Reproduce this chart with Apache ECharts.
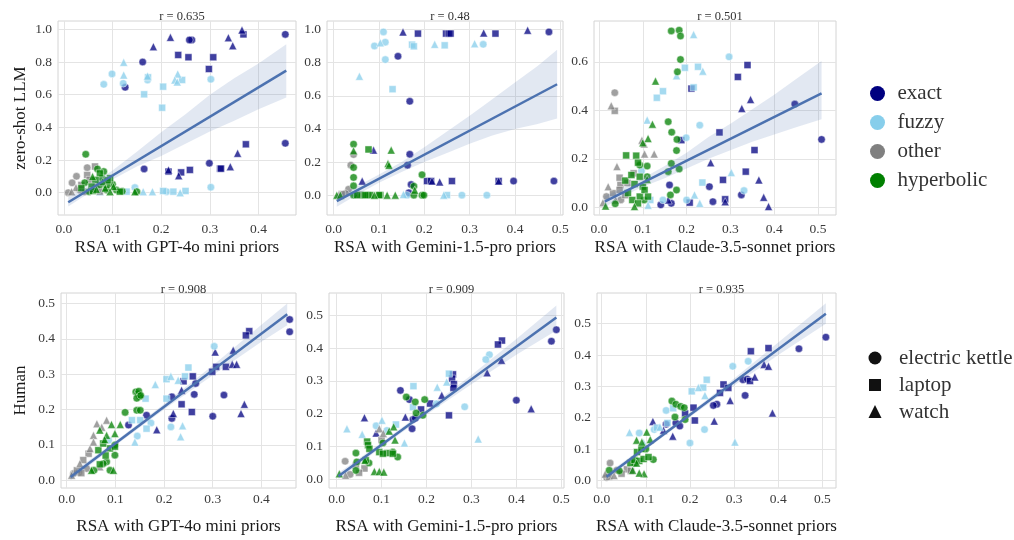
<!DOCTYPE html>
<html>
<head>
<meta charset="utf-8">
<script src="https://cdn.jsdelivr.net/npm/echarts@6.0.0/dist/echarts.min.js"></script>
<style>
  html, body { margin: 0; padding: 0; background: #fff; }
  #chart { width: 1014px; height: 540px; }
</style>
</head>
<body>
<div id="chart"></div>
<script>
// point = [x, y, shape]  shape: k = electric kettle, l = laptop, w = watch
const categories = ['exact', 'fuzzy', 'other', 'hyperbolic'];
const shapeNames = ['electric kettle', 'laptop', 'watch'];
const rValues = ['r = 0.635', 'r = 0.48', 'r = 0.501', 'r = 0.908', 'r = 0.909', 'r = 0.935'];
const xNames = ['RSA with GPT-4o mini priors', 'RSA with Gemini-1.5-pro priors', 'RSA with Claude-3.5-sonnet priors'];
const yNames = ['zero-shot LLM', 'Human'];

// ---- zero-shot LLM vs RSA (GPT-4o mini)
const gptLlmExact = [
  [0.455,0.969,'k'],[0.263,0.935,'k'],[0.258,0.935,'k'],[0.162,0.80,'k'],[0.126,0.645,'k'],[0.455,0.302,'k'],[0.165,0.145,'k'],[0.299,0.18,'k'],
  [0.184,0.894,'w'],[0.219,0.951,'w'],[0.338,0.949,'w'],[0.347,0.90,'w'],[0.366,0.996,'w'],[0.236,0.104,'w'],[0.357,0.241,'w'],[0.342,0.159,'w'],[0.215,0.139,'w'],
  [0.369,0.969,'l'],[0.235,0.843,'l'],[0.256,0.829,'l'],[0.307,0.829,'l'],[0.298,0.757,'l'],[0.374,0.296,'l'],[0.215,0.129,'l'],[0.241,0.124,'l'],[0.259,0.139,'l'],[0.321,0.147,'l'],[0.323,0.147,'l']
];
const gptLlmFuzzy = [
  [0.082,0.663,'k'],[0.099,0.727,'k'],[0.122,0.669,'k'],[0.172,0.69,'k'],[0.302,0.694,'k'],[0.302,0.033,'k'],[0.146,0.031,'k'],[0.211,0.006,'k'],
  [0.123,0.798,'w'],[0.123,0.72,'w'],[0.172,0.714,'w'],[0.234,0.727,'w'],[0.228,0.69,'w'],[0.233,0.678,'w'],[0.163,0.006,'w'],[0.182,0.006,'w'],[0.239,0.0,'w'],[0.074,0.006,'w'],
  [0.173,0.706,'l'],[0.165,0.602,'l'],[0.204,0.649,'l'],[0.202,0.52,'l'],[0.243,0.69,'l'],[0.129,0.006,'l'],[0.204,0.01,'l'],[0.25,0.01,'l'],[0.225,0.006,'l']
];
const gptLlmOther = [
  [0.009,0.0,'k'],[0.026,0.10,'k'],[0.017,0.06,'k'],[0.048,0.153,'k'],[0.033,0.016,'k'],[0.043,0.006,'k'],
  [0.064,0.16,'l'],[0.048,0.108,'l'],[0.053,0.078,'l'],[0.036,0.047,'l'],[0.067,0.037,'l'],[0.074,0.006,'l'],
  [0.025,0.031,'w'],[0.06,0.027,'w'],[0.016,0.006,'w']
];
const gptLlmHyper = [
  [0.045,0.235,'k'],[0.069,0.145,'k'],[0.082,0.129,'k'],[0.1,0.051,'k'],[0.043,0.061,'k'],[0.108,0.016,'k'],[0.15,0.006,'k'],[0.088,0.016,'k'],[0.074,0.047,'k'],[0.052,0.006,'k'],[0.078,0.09,'k'],[0.12,0.008,'k'],
  [0.074,0.118,'l'],[0.065,0.078,'l'],[0.095,0.088,'l'],[0.057,0.037,'l'],[0.115,0.006,'l'],[0.088,0.047,'l'],[0.036,0.027,'l'],[0.09,0.075,'l'],[0.06,0.01,'l'],
  [0.059,0.098,'w'],[0.08,0.067,'w'],[0.102,0.037,'w'],[0.095,0.006,'w'],[0.067,0.02,'w'],[0.146,0.006,'w'],[0.085,0.028,'w']
];
const gptLlmFit = [[0.009,-0.059],[0.457,0.747]];
const gptLlmBand = [
  [0.009,-0.085,-0.03],[0.05,-0.005,0.04],[0.1,0.08,0.135],[0.15,0.16,0.25],[0.2,0.225,0.37],
  [0.25,0.30,0.48],[0.3,0.375,0.60],[0.35,0.44,0.70],[0.4,0.51,0.79],[0.457,0.582,0.908]
];

// ---- zero-shot LLM vs RSA (Gemini-1.5-pro)
const gemLlmExact = [
  [0.475,0.986,'k'],[0.142,0.839,'k'],[0.168,0.567,'k'],[0.168,0.247,'k'],[0.163,0.181,'k'],[0.171,0.064,'k'],[0.397,0.085,'k'],[0.486,0.085,'k'],[0.166,0.014,'k'],
  [0.153,0.986,'w'],[0.331,0.98,'w'],[0.428,0.996,'w'],[0.088,0.272,'w'],[0.063,0.085,'w'],[0.217,0.085,'w'],[0.234,0.08,'w'],[0.364,0.085,'w'],
  [0.186,0.976,'l'],[0.248,0.976,'l'],[0.254,0.976,'l'],[0.258,0.976,'l'],[0.357,0.976,'l'],[0.206,0.085,'l'],[0.215,0.085,'l'],[0.261,0.085,'l'],[0.364,0.085,'l']
];
const gemLlmFuzzy = [
  [0.11,0.986,'k'],[0.114,0.924,'k'],[0.09,0.901,'k'],[0.114,0.819,'k'],[0.33,0.911,'k'],[0.283,0.0,'k'],[0.338,0.0,'k'],[0.162,0.0,'k'],
  [0.103,0.92,'w'],[0.223,0.911,'w'],[0.311,0.915,'w'],[0.057,0.718,'w'],[0.243,0.0,'w'],[0.154,0.004,'w'],
  [0.173,0.909,'l'],[0.177,0.899,'l'],[0.245,0.905,'l'],[0.13,0.64,'l'],[0.25,0.0,'l']
];
const gemLlmOther = [
  [0.044,0.245,'k'],[0.038,0.181,'k'],[0.033,0.036,'k'],[0.026,0.01,'k'],
  [0.018,0.006,'l'],[0.059,0.004,'l'],
  [0.052,0.003,'w'],[0.012,0.002,'w']
];
const gemLlmHyper = [
  [0.044,0.308,'k'],[0.044,0.167,'k'],[0.044,0.107,'k'],[0.044,0.056,'k'],[0.195,0.123,'k'],[0.177,0.054,'k'],[0.044,0.0,'k'],[0.063,0.0,'k'],[0.177,0.0,'k'],[0.195,0.0,'k'],[0.199,0.0,'k'],
  [0.077,0.276,'l'],[0.075,0.0,'l'],[0.081,0.0,'l'],[0.103,0.0,'l'],[0.052,0.0,'l'],[0.07,0.0,'l'],[0.1,0.0,'l'],
  [0.044,0.268,'w'],[0.127,0.272,'w'],[0.12,0.191,'w'],[0.122,0.18,'w'],[0.179,0.03,'w'],[0.007,0.0,'w'],[0.015,0.0,'w'],[0.118,0.0,'w'],[0.136,0.0,'w'],[0.09,0.0,'w']
];
const gemLlmFit = [[0.007,-0.036],[0.493,0.67]];
const gemLlmBand = [
  [0.007,-0.07,-0.005],[0.05,0.0,0.05],[0.1,0.075,0.125],[0.15,0.14,0.20],[0.2,0.20,0.29],[0.25,0.255,0.385],
  [0.3,0.31,0.48],[0.35,0.36,0.58],[0.4,0.40,0.68],[0.45,0.43,0.78],[0.493,0.463,0.879]
];

// ---- zero-shot LLM vs RSA (Claude-3.5-sonnet)
const claLlmExact = [
  [0.447,0.426,'k'],[0.508,0.28,'k'],[0.252,0.085,'k'],[0.161,0.092,'k'],[0.325,0.051,'k'],[0.26,0.023,'k'],[0.141,0.01,'k'],[0.165,0.016,'k'],
  [0.339,0.587,'l'],[0.317,0.538,'l'],[0.211,0.49,'l'],[0.275,0.309,'l'],[0.188,0.277,'l'],[0.355,0.236,'l'],[0.335,0.147,'l'],[0.283,0.113,'l'],[0.288,0.033,'l'],[0.207,0.019,'l'],
  [0.346,0.445,'w'],[0.326,0.408,'w'],[0.255,0.184,'w'],[0.365,0.113,'w'],[0.288,0.023,'w'],[0.376,0.041,'w'],[0.387,0.003,'w'],[0.158,0.03,'w']
];
const claLlmFuzzy = [
  [0.297,0.621,'k'],[0.23,0.339,'k'],[0.199,0.287,'k'],[0.331,0.069,'k'],[0.097,0.15,'k'],[0.146,0.03,'k'],[0.2,0.03,'k'],
  [0.216,0.713,'w'],[0.237,0.562,'w'],[0.177,0.543,'w'],[0.11,0.36,'w'],[0.302,0.143,'w'],[0.218,0.051,'w'],[0.23,0.016,'w'],[0.112,0.008,'w'],
  [0.196,0.576,'l'],[0.226,0.58,'l'],[0.146,0.479,'l'],[0.132,0.452,'l'],[0.216,0.495,'l'],[0.236,0.102,'l'],[0.117,0.03,'l']
];
const claLlmOther = [
  [0.036,0.473,'k'],[0.017,0.044,'k'],[0.05,0.03,'k'],
  [0.036,0.398,'l'],[0.047,0.122,'l'],[0.049,0.092,'l'],[0.032,0.058,'l'],[0.079,0.14,'l'],[0.047,0.071,'l'],[0.065,0.1,'l'],[0.06,0.05,'l'],
  [0.028,0.419,'w'],[0.098,0.277,'w'],[0.103,0.261,'w'],[0.104,0.22,'w'],[0.126,0.22,'w'],[0.041,0.168,'w'],[0.021,0.085,'w'],[0.009,0.019,'w'],[0.038,0.03,'w']
];
const claLlmHyper = [
  [0.165,0.728,'k'],[0.183,0.731,'k'],[0.186,0.707,'k'],[0.186,0.61,'k'],[0.179,0.559,'k'],[0.158,0.353,'k'],[0.166,0.31,'k'],[0.178,0.28,'k'],[0.177,0.234,'k'],[0.11,0.17,'k'],
  [0.165,0.181,'k'],[0.183,0.158,'k'],[0.158,0.147,'k'],[0.177,0.071,'k'],[0.163,0.051,'k'],[0.093,0.174,'k'],[0.11,0.126,'k'],[0.037,0.014,'k'],[0.103,0.03,'k'],
  [0.062,0.214,'l'],[0.085,0.213,'l'],[0.089,0.184,'l'],[0.06,0.11,'l'],[0.074,0.133,'l'],[0.093,0.126,'l'],[0.081,0.096,'l'],[0.1,0.085,'l'],[0.066,0.058,'l'],
  [0.093,0.044,'l'],[0.076,0.03,'l'],[0.104,0.071,'l'],[0.112,0.044,'l'],[0.089,0.016,'l'],
  [0.129,0.521,'w'],[0.122,0.343,'w'],[0.112,0.284,'w'],[0.1,0.266,'w'],[0.015,0.005,'w'],[0.081,0.003,'w'],[0.11,0.115,'w']
];
const claLlmFit = [[0.013,0.023],[0.508,0.47]];
const claLlmBand = [
  [0.013,0.0,0.045],[0.05,0.04,0.075],[0.1,0.085,0.12],[0.15,0.12,0.17],[0.2,0.16,0.225],[0.25,0.20,0.29],
  [0.3,0.235,0.345],[0.35,0.27,0.405],[0.4,0.30,0.465],[0.45,0.33,0.53],[0.508,0.363,0.604]
];

// ---- Human vs RSA (GPT-4o mini)
const gptHumExact = [
  [0.458,0.455,'k'],[0.458,0.42,'k'],[0.265,0.274,'k'],[0.262,0.243,'k'],[0.323,0.241,'k'],[0.216,0.236,'k'],[0.216,0.175,'k'],[0.164,0.184,'k'],[0.127,0.156,'k'],[0.3,0.181,'k'],
  [0.375,0.422,'l'],[0.368,0.41,'l'],[0.327,0.321,'l'],[0.307,0.321,'l'],[0.299,0.307,'l'],[0.259,0.294,'l'],[0.24,0.28,'l'],[0.236,0.215,'l'],[0.257,0.193,'l'],
  [0.342,0.368,'w'],[0.34,0.328,'w'],[0.349,0.328,'w'],[0.305,0.363,'w'],[0.236,0.255,'w'],[0.219,0.189,'w'],[0.185,0.143,'w'],[0.365,0.215,'w'],[0.358,0.189,'w']
];
const gptHumFuzzy = [
  [0.303,0.379,'k'],[0.173,0.162,'k'],[0.214,0.151,'k'],[0.145,0.125,'k'],[0.086,0.113,'k'],
  [0.25,0.319,'l'],[0.205,0.286,'l'],[0.243,0.294,'l'],[0.162,0.231,'l'],[0.205,0.231,'l'],[0.164,0.146,'l'],[0.134,0.17,'l'],[0.151,0.17,'l'],
  [0.214,0.294,'w'],[0.229,0.283,'w'],[0.182,0.271,'w'],[0.238,0.154,'w'],[0.234,0.123,'w'],[0.14,0.108,'w']
];
const gptHumOther = [
  [0.014,0.019,'k'],[0.041,0.033,'k'],[0.025,0.022,'k'],
  [0.021,0.028,'l'],[0.045,0.075,'l'],[0.034,0.057,'l'],[0.03,0.02,'l'],
  [0.062,0.16,'w'],[0.082,0.17,'w'],[0.055,0.127,'w'],[0.048,0.09,'w'],[0.027,0.047,'w'],[0.055,0.108,'w'],[0.01,0.014,'w'],[0.068,0.038,'w'],[0.072,0.15,'w']
];
const gptHumHyper = [
  [0.142,0.25,'k'],[0.146,0.245,'k'],[0.15,0.237,'k'],[0.144,0.232,'k'],[0.148,0.252,'k'],[0.152,0.24,'k'],[0.144,0.198,'k'],[0.151,0.198,'k'],[0.12,0.192,'k'],
  [0.082,0.052,'k'],[0.089,0.028,'k'],[0.075,0.047,'k'],[0.099,0.071,'k'],[0.056,0.028,'k'],[0.099,0.1,'k'],
  [0.065,0.085,'l'],[0.089,0.09,'l'],[0.075,0.104,'l'],[0.068,0.045,'l'],[0.099,0.095,'l'],[0.08,0.07,'l'],
  [0.092,0.158,'w'],[0.099,0.132,'w'],[0.082,0.127,'w'],[0.11,0.158,'w'],[0.068,0.142,'w'],[0.096,0.028,'w'],[0.051,0.028,'w'],[0.078,0.115,'w']
];
const gptHumFit = [[0.008,0.009],[0.453,0.47]];
const gptHumBand = [
  [0.008,0.0,0.018],[0.1,0.098,0.11],[0.2,0.20,0.216],[0.3,0.297,0.325],[0.4,0.392,0.44],[0.453,0.439,0.50]
];

// ---- Human vs RSA (Gemini-1.5-pro)
const gemHumExact = [
  [0.489,0.456,'k'],[0.478,0.421,'k'],[0.142,0.271,'k'],[0.162,0.243,'k'],[0.17,0.182,'k'],[0.168,0.154,'k'],[0.4,0.241,'k'],[0.175,0.186,'k'],
  [0.368,0.423,'l'],[0.359,0.411,'l'],[0.259,0.32,'l'],[0.257,0.307,'l'],[0.261,0.29,'l'],[0.26,0.279,'l'],[0.208,0.231,'l'],[0.188,0.213,'l'],[0.25,0.195,'l'],
  [0.367,0.363,'w'],[0.335,0.325,'w'],[0.234,0.256,'w'],[0.433,0.215,'w'],[0.062,0.188,'w'],[0.153,0.19,'w'],[0.088,0.141,'w']
];
const gemHumFuzzy = [
  [0.34,0.38,'k'],[0.332,0.365,'k'],[0.285,0.221,'k'],[0.088,0.163,'k'],[0.112,0.149,'k'],[0.222,0.23,'k'],
  [0.25,0.322,'l'],[0.171,0.284,'l'],[0.132,0.167,'l'],[0.17,0.22,'l'],
  [0.245,0.297,'w'],[0.224,0.281,'w'],[0.315,0.123,'w'],[0.023,0.154,'w'],[0.057,0.137,'w'],[0.101,0.18,'w'],[0.151,0.111,'w']
];
const gemHumOther = [
  [0.019,0.055,'k'],[0.03,0.015,'k'],
  [0.062,0.033,'l'],[0.043,0.043,'l'],[0.1,0.12,'l'],[0.05,0.02,'l'],
  [0.095,0.154,'w'],[0.104,0.14,'w'],[0.02,0.012,'w']
];
const gemHumHyper = [
  [0.155,0.251,'k'],[0.175,0.236,'k'],[0.192,0.195,'k'],[0.196,0.243,'k'],[0.177,0.202,'k'],[0.043,0.08,'k'],[0.045,0.053,'k'],[0.043,0.027,'k'],[0.125,0.083,'k'],[0.136,0.068,'k'],[0.103,0.111,'k'],[0.072,0.05,'k'],
  [0.068,0.115,'l'],[0.07,0.104,'l'],[0.095,0.083,'l'],[0.113,0.08,'l'],[0.103,0.078,'l'],[0.125,0.078,'l'],[0.073,0.093,'l'],[0.065,0.058,'l'],
  [0.117,0.147,'w'],[0.127,0.16,'w'],[0.084,0.024,'w'],[0.095,0.024,'w'],[0.105,0.022,'w'],[0.006,0.017,'w'],[0.063,0.058,'w'],[0.13,0.12,'w']
];
const gemHumFit = [[0.004,0.009],[0.489,0.493]];
const gemHumBand = [
  [0.004,0.0,0.019],[0.1,0.098,0.112],[0.2,0.197,0.213],[0.3,0.29,0.318],[0.4,0.38,0.428],[0.489,0.454,0.53]
];

// ---- Human vs RSA (Claude-3.5-sonnet)
const claHumExact = [
  [0.508,0.457,'k'],[0.447,0.42,'k'],[0.32,0.321,'k'],[0.33,0.323,'k'],[0.325,0.271,'k'],[0.261,0.243,'k'],[0.253,0.239,'k'],[0.146,0.179,'k'],[0.168,0.183,'k'],[0.177,0.173,'k'],
  [0.378,0.422,'l'],[0.338,0.412,'l'],[0.336,0.317,'l'],[0.276,0.306,'l'],[0.287,0.295,'l'],[0.268,0.279,'l'],[0.208,0.232,'l'],[0.211,0.191,'l'],[0.189,0.213,'l'],
  [0.368,0.37,'w'],[0.378,0.364,'w'],[0.347,0.33,'w'],[0.291,0.255,'w'],[0.255,0.189,'w'],[0.387,0.215,'w'],[0.116,0.188,'w'],[0.161,0.141,'w'],[0.14,0.16,'w']
];
const claHumFuzzy = [
  [0.332,0.38,'k'],[0.297,0.364,'k'],[0.2,0.119,'k'],[0.233,0.162,'k'],[0.146,0.223,'k'],[0.085,0.151,'k'],[0.119,0.162,'k'],
  [0.238,0.321,'l'],[0.204,0.284,'l'],[0.23,0.296,'l'],[0.162,0.23,'l'],[0.149,0.183,'l'],[0.125,0.168,'l'],
  [0.219,0.296,'w'],[0.234,0.271,'w'],[0.302,0.122,'w'],[0.063,0.153,'w'],[0.132,0.17,'w'],[0.095,0.12,'w']
];
const claHumOther = [
  [0.019,0.055,'k'],[0.011,0.009,'k'],[0.034,0.032,'k'],
  [0.017,0.011,'l'],[0.057,0.035,'l'],[0.045,0.021,'l'],[0.066,0.03,'l'],
  [0.008,0.02,'w'],[0.028,0.015,'w']
];
const claHumHyper = [
  [0.159,0.253,'k'],[0.168,0.243,'k'],[0.179,0.236,'k'],[0.187,0.232,'k'],[0.166,0.202,'k'],[0.189,0.194,'k'],[0.117,0.066,'k'],[0.017,0.032,'k'],[0.04,0.03,'k'],[0.075,0.055,'k'],[0.1,0.1,'k'],
  [0.065,0.055,'l'],[0.074,0.065,'l'],[0.085,0.062,'l'],[0.095,0.068,'l'],[0.106,0.074,'l'],[0.08,0.09,'l'],[0.09,0.1,'l'],
  [0.102,0.154,'w'],[0.079,0.128,'w'],[0.091,0.122,'w'],[0.096,0.021,'w'],[0.07,0.032,'w'],[0.085,0.023,'w'],[0.079,0.055,'w'],[0.11,0.13,'w']
];
const claHumFit = [[0.011,0.011],[0.508,0.532]];
const claHumBand = [
  [0.011,0.003,0.02],[0.1,0.098,0.111],[0.2,0.202,0.216],[0.3,0.303,0.325],[0.4,0.40,0.44],[0.508,0.50,0.565]
];

// tick labels
const ticksX04 = [0, 0.1, 0.2, 0.3, 0.4];
const ticksX05 = [0, 0.1, 0.2, 0.3, 0.4, 0.5];
const ticksY10 = [0, 0.2, 0.4, 0.6, 0.8, 1.0];
const ticksY06 = [0, 0.2, 0.4, 0.6];
const ticksY05 = [0, 0.1, 0.2, 0.3, 0.4, 0.5];

const FONT = '"Liberation Serif", "DejaVu Serif", serif';
const catColors = { exact: '#000080', fuzzy: '#87ceeb', other: '#808080', hyperbolic: '#008000' };
const shapeSymbol = { k: 'circle', l: 'rect', w: 'triangle' };
const shapeSize = { k: 7.5, l: 7, w: 8 };

// layout of the six plot frames
const panels = [
  { left: 58, top: 21, width: 238, height: 194, xMin: -0.012, xMax: 0.477, yMin: -0.137, yMax: 1.051,
    xTicks: ticksX04, yTicks: ticksY10, pts: [gptLlmExact, gptLlmFuzzy, gptLlmOther, gptLlmHyper], fit: gptLlmFit, band: gptLlmBand },
  { left: 327, top: 21, width: 236, height: 194, xMin: -0.0146, xMax: 0.506, yMin: -0.12, yMax: 1.052,
    xTicks: ticksX05, yTicks: ticksY10, pts: [gemLlmExact, gemLlmFuzzy, gemLlmOther, gemLlmHyper], fit: gemLlmFit, band: gemLlmBand },
  { left: 594, top: 21, width: 242, height: 194, xMin: -0.0114, xMax: 0.541, yMin: -0.032, yMax: 0.769,
    xTicks: ticksX05, yTicks: ticksY06, pts: [claLlmExact, claLlmFuzzy, claLlmOther, claLlmHyper], fit: claLlmFit, band: claLlmBand },
  { left: 61, top: 293, width: 235, height: 195, xMin: -0.0117, xMax: 0.471, yMin: -0.022, yMax: 0.530,
    xTicks: ticksX04, yTicks: ticksY05, pts: [gptHumExact, gptHumFuzzy, gptHumOther, gptHumHyper], fit: gptHumFit, band: gptHumBand },
  { left: 329, top: 293, width: 235, height: 195, xMin: -0.0169, xMax: 0.506, yMin: -0.0265, yMax: 0.568,
    xTicks: ticksX05, yTicks: ticksY05, pts: [gemHumExact, gemHumFuzzy, gemHumOther, gemHumHyper], fit: gemHumFit, band: gemHumBand },
  { left: 597, top: 293, width: 239, height: 195, xMin: -0.0107, xMax: 0.531, yMin: -0.0246, yMax: 0.598,
    xTicks: ticksX05, yTicks: ticksY05, pts: [claHumExact, claHumFuzzy, claHumOther, claHumHyper], fit: claHumFit, band: claHumBand }
];

const grids = [], xAxes = [], yAxes = [], titles = [], series = [];

panels.forEach((p, i) => {
  const topRow = i < 3;
  grids.push({ left: p.left, top: p.top, width: p.width, height: p.height,
    show: true, borderColor: '#d4d4d4', borderWidth: 1, backgroundColor: 'transparent' });

  titles.push({ text: rValues[i], left: p.left + p.width / 2, top: topRow ? 5 : 278, textAlign: 'center',
    textStyle: { fontFamily: FONT, fontSize: 12.5, fontWeight: 'normal', color: '#333' } });

  xAxes.push({
    type: 'value', gridIndex: i, min: p.xMin, max: p.xMax,
    axisLine: { show: false },
    axisTick: { show: false, customValues: p.xTicks },
    axisLabel: { customValues: p.xTicks, formatter: v => v.toFixed(1), color: '#3a3a3a',
      fontFamily: FONT, fontSize: 13.5, margin: topRow ? 7 : 4 },
    splitLine: { show: true, lineStyle: { color: '#e4e4e4', width: 1 } },
    name: xNames[i % 3], nameLocation: 'middle', nameGap: topRow ? 24 : 30,
    nameTextStyle: { fontFamily: FONT, fontSize: 17, color: '#1a1a1a' }
  });

  yAxes.push({
    type: 'value', gridIndex: i, min: p.yMin, max: p.yMax,
    axisLine: { show: false },
    axisTick: { show: false, customValues: p.yTicks },
    axisLabel: { customValues: p.yTicks, formatter: v => v.toFixed(1), color: '#3a3a3a',
      fontFamily: FONT, fontSize: 13.5, margin: 6 },
    splitLine: { show: true, lineStyle: { color: '#e4e4e4', width: 1 } },
    name: i % 3 === 0 ? yNames[topRow ? 0 : 1] : '', nameLocation: 'middle', nameGap: topRow ? 29 : 32,
    nameTextStyle: { fontFamily: FONT, fontSize: 17, color: '#1a1a1a' }
  });

  categories.forEach((cat, ci) => {
    ['k', 'l', 'w'].forEach(s => {
      series.push({
        type: 'scatter', name: cat, xAxisIndex: i, yAxisIndex: i,
        symbol: shapeSymbol[s], symbolSize: shapeSize[s],
        data: p.pts[ci].filter(d => d[2] === s).map(d => [d[0], d[1]]),
        itemStyle: { color: catColors[cat], opacity: 0.75, borderColor: '#ffffff', borderWidth: 0.6 },
        z: 2, silent: true
      });
    });
  });

  const band = p.band;
  series.push({
    type: 'custom', xAxisIndex: i, yAxisIndex: i, silent: true, z: 3,
    data: band, encode: { x: 0, y: [1, 2] },
    renderItem: (params, api) => {
      if (params.dataIndex !== 0) return null;
      const upper = band.map(b => api.coord([b[0], b[2]]));
      const lower = band.map(b => api.coord([b[0], b[1]])).reverse();
      return { type: 'polygon', shape: { points: upper.concat(lower) },
        style: { fill: 'rgba(76,114,176,0.16)' } };
    }
  });

  series.push({
    type: 'line', xAxisIndex: i, yAxisIndex: i, data: p.fit, symbol: 'none', silent: true, z: 4,
    lineStyle: { color: '#4c72b0', width: 2.5 }
  });
});

const shapeLegend = [];
const shapeY = [358, 385, 412];
shapeLegend.push({ type: 'circle', shape: { cx: 875, cy: shapeY[0], r: 6.5 }, style: { fill: '#111' } });
shapeLegend.push({ type: 'rect', shape: { x: 869, y: shapeY[1] - 6, width: 12, height: 12 }, style: { fill: '#111' } });
shapeLegend.push({ type: 'polygon', shape: { points: [[875, shapeY[2] - 7], [868.5, shapeY[2] + 6], [881.5, shapeY[2] + 6]] }, style: { fill: '#111' } });
shapeNames.forEach((n, k) => {
  shapeLegend.push({ type: 'text', x: 899, y: shapeY[k],
    style: { text: n, font: '21px ' + FONT, fill: '#333', verticalAlign: 'middle' } });
});

const chart = echarts.init(document.getElementById('chart'));
chart.setOption({
  animation: false,
  backgroundColor: '#ffffff',
  title: titles,
  grid: grids,
  xAxis: xAxes,
  yAxis: yAxes,
  legend: {
    orient: 'vertical', left: 865, top: 78, itemWidth: 30, itemHeight: 15, itemGap: 8,
    selectedMode: true,
    textStyle: { fontFamily: FONT, fontSize: 21, color: '#333', lineHeight: 21 },
    data: categories.map(c => ({ name: c, icon: 'circle',
      itemStyle: { color: catColors[c], opacity: 1, borderWidth: 0 } }))
  },
  graphic: shapeLegend,
  series: series
});
</script>
</body>
</html>
